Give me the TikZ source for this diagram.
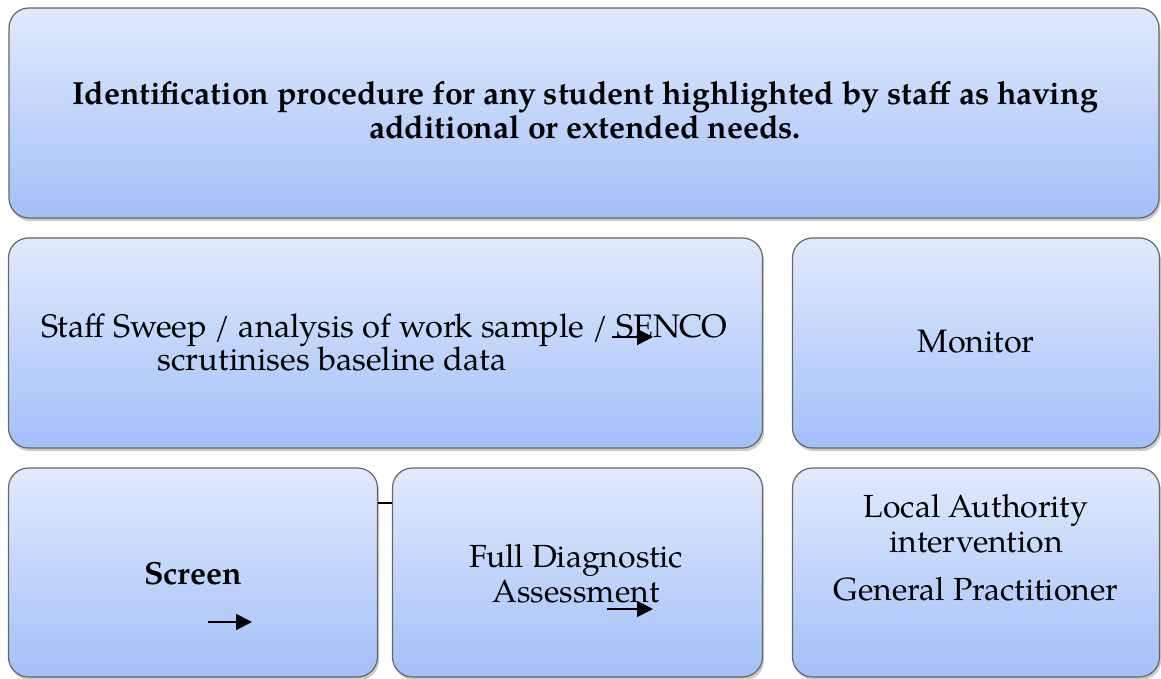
\documentclass[tikz,border=0pt]{standalone}
\usepackage{fontspec}
\setmainfont{TeX Gyre Pagella}
\usetikzlibrary{shadows,arrows.meta}
\definecolor{boxtop}{HTML}{E1EAFD}
\definecolor{boxbot}{HTML}{A2C0F8}
\definecolor{boxline}{HTML}{666666}
\tikzset{
  panel/.style={draw=boxline, line width=0.6pt, rounded corners=10pt,
    top color=boxtop, bottom color=boxbot,
    drop shadow={opacity=0.4, shadow xshift=0.8pt, shadow yshift=-1.6pt},
    inner sep=0pt},
  txt/.style={anchor=base, inner sep=0pt, text=black},
  smallarrow/.style={line width=0.9pt, -{Triangle[length=8pt,width=8pt]}},
  link/.style={line width=1pt}
}
\begin{document}
\begin{tikzpicture}[x=0.5pt,y=-0.5pt]
\useasboundingbox (0,0) rectangle (1161,679);
% boxes
\node[panel, minimum width=1150*0.5pt, minimum height=210*0.5pt] (top) at (584,113) {};
\node[panel, minimum width=754*0.5pt, minimum height=210*0.5pt] (sweep) at (385.5,343) {};
\node[panel, minimum width=367*0.5pt, minimum height=210*0.5pt] (monitor) at (976,343) {};
\node[panel, minimum width=369*0.5pt, minimum height=209*0.5pt] (screen) at (193,572.5) {};
\node[panel, minimum width=370*0.5pt, minimum height=209*0.5pt] (fda) at (577.5,572.5) {};
\node[panel, minimum width=367*0.5pt, minimum height=209*0.5pt] (la) at (976,572.5) {};
% texts
\node[txt, font=\fontsize{16}{19}\selectfont\bfseries] (t1) at (585,105) {Identification procedure for any student highlighted by staff as having};
\node[txt, font=\fontsize{16}{19}\selectfont\bfseries] (t2) at (585,139) {additional or extended needs.};
\node[txt, font=\fontsize{16.3}{19}\selectfont] (s1) at (384,337) {Staff Sweep / analysis of work sample / SENCO};
\node[txt, font=\fontsize{16.3}{19}\selectfont] (s2) at (332,370) {scrutinises baseline data};
\node[txt, font=\fontsize{16.2}{19}\selectfont] (m1) at (976,352) {Monitor};
\node[txt, font=\fontsize{16}{19}\selectfont\bfseries] (sc) at (193,584) {Screen};
\node[txt, font=\fontsize{16}{19}\selectfont] (f1) at (576,567) {Full Diagnostic};
\node[txt, font=\fontsize{16}{19}\selectfont] (f2) at (576,602) {Assessment};
\node[txt, font=\fontsize{16}{19}\selectfont] (l1) at (976,517) {Local Authority};
\node[txt, font=\fontsize{16}{19}\selectfont] (l2) at (976,552) {intervention};
\node[txt, font=\fontsize{16}{19}\selectfont] (l3) at (976,600) {General Practitioner};
% connector between Screen and Full Diagnostic Assessment
\coordinate (c1) at (screen.east |- 0,503);
\coordinate (c2) at (fda.west |- 0,503);
\draw[link] (c1) -- (c2);
% small arrows
\coordinate (a1s) at (612,337); \coordinate (a1e) at (653,337);
\coordinate (a2s) at (208,622); \coordinate (a2e) at (252,622);
\coordinate (a3s) at (607,609); \coordinate (a3e) at (653,609);
\draw[smallarrow] (a1s) -- (a1e);
\draw[smallarrow] (a2s) -- (a2e);
\draw[smallarrow] (a3s) -- (a3e);
\end{tikzpicture}
\end{document}
